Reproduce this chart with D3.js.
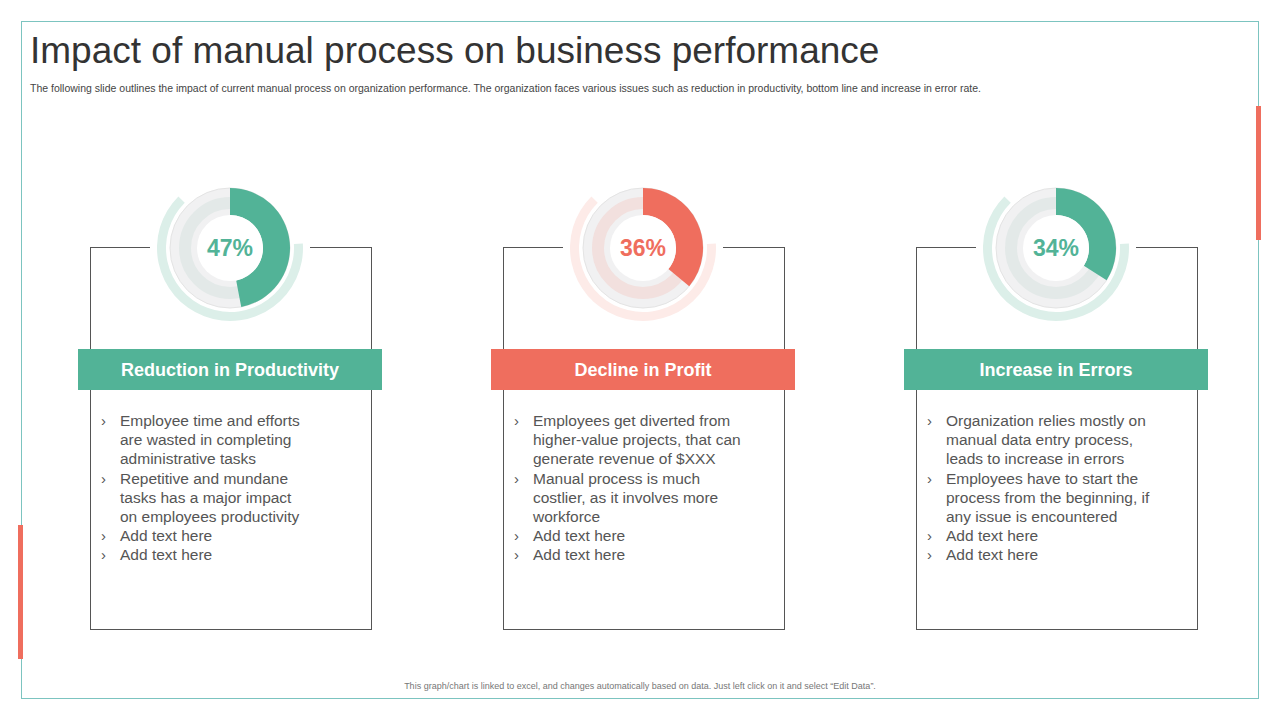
<!DOCTYPE html><html><head><meta charset="utf-8">
<script src="https://cdn.jsdelivr.net/npm/d3@7"></script>
<style>body{margin:0;background:#fff;font-family:Arial,"Liberation Sans",sans-serif}</style></head><body>
<svg id="c" width="1280" height="720"></svg>
<script>
const categories=["Reduction in Productivity","Decline in Profit","Increase in Errors"];
const values=[47,36,34];
const colors=["#52b397","#ef6e5e","#52b397"];
const lightColors=["#dcefe9","#fdebe8","#dcefe9"];
const bullets=[
 [["Employee time and efforts","are wasted in completing","administrative tasks"],["Repetitive and mundane","tasks has a major impact","on employees productivity"],["Add text here"],["Add text here"]],
 [["Employees get diverted from","higher-value  projects, that can","generate revenue  of $XXX"],["Manual process is much","costlier, as it involves more","workforce"],["Add text here"],["Add text here"]],
 [["Organization relies mostly on","manual data entry process,","leads to increase in errors"],["Employees have to start the","process from the beginning, if","any issue is encountered"],["Add text here"],["Add text here"]]
];
const svg=d3.select("#c");
svg.append("rect").attr("x",21.5).attr("y",21.5).attr("width",1237).attr("height",677).attr("fill","none").attr("stroke","#7cc4c0").attr("stroke-width",1);
svg.append("rect").attr("x",1256).attr("y",106).attr("width",5).attr("height",134).attr("fill","#ef6e5e");
svg.append("rect").attr("x",18).attr("y",525).attr("width",5).attr("height",134).attr("fill","#ef6e5e");
svg.append("text").attr("x",30).attr("y",63).attr("font-size",37).attr("fill","#333").text("Impact of manual process on business performance");
svg.append("text").attr("x",30).attr("y",92).attr("font-size",10.5).attr("fill","#444").text("The following slide outlines the impact of current manual process on organization performance. The organization faces various issues such as reduction in productivity, bottom line and increase in error rate.");
svg.append("text").attr("x",640).attr("y",689).attr("text-anchor","middle").attr("font-size",9).attr("fill","#777").text("This graph/chart is linked to excel, and changes automatically based on data. Just left click on it and select “Edit Data”.");
const x=d3.scalePoint().domain(categories).range([230,1056]);
const arc=d3.arc();
categories.forEach((c,i)=>{
 const cx=x(c);
 const g=svg.append("g");
 g.append("rect").attr("x",cx-139.5).attr("y",247.5).attr("width",281).attr("height",382).attr("fill","#fff").attr("stroke","#555");
 const d=g.append("g").attr("transform",`translate(${cx},248)`);
 d.append("rect").attr("x",-80).attr("y",-75).attr("width",160).attr("height",160).attr("fill","#fff");
 d.append("path").attr("d",arc({innerRadius:64,outerRadius:73,startAngle:Math.PI*0.48,endAngle:Math.PI*1.75})).attr("fill",lightColors[i]);
 d.append("circle").attr("r",60).attr("fill","#f1f1f2").attr("stroke","#e4e4e4");
 d.append("circle").attr("r",45).attr("fill","none").attr("stroke",i==1?"#f2e0de":"#e3e9e8").attr("stroke-width",12);
 d.append("path").attr("d",arc({innerRadius:33,outerRadius:60,startAngle:0,endAngle:2*Math.PI*values[i]/100})).attr("fill",colors[i]);
 d.append("circle").attr("r",33).attr("fill","#fff");
 d.append("text").attr("y",8).attr("text-anchor","middle").attr("font-size",23).attr("font-weight","bold").attr("fill",colors[i]).text(values[i]+"%");
 g.append("rect").attr("x",cx-152).attr("y",349).attr("width",304).attr("height",41).attr("fill",colors[i]);
 g.append("text").attr("x",cx).attr("y",376).attr("text-anchor","middle").attr("font-size",18).attr("font-weight","bold").attr("fill","#fff").text(c);
 let y=426;
 bullets[i].forEach(b=>{
  g.append("text").attr("x",cx-129).attr("y",y).attr("font-size",15).attr("fill","#555").text("›");
  b.forEach(line=>{g.append("text").attr("x",cx-110).attr("y",y).attr("font-size",15.5).attr("fill","#555").text(line);y+=19.2;});
 });
});
</script></body></html>
